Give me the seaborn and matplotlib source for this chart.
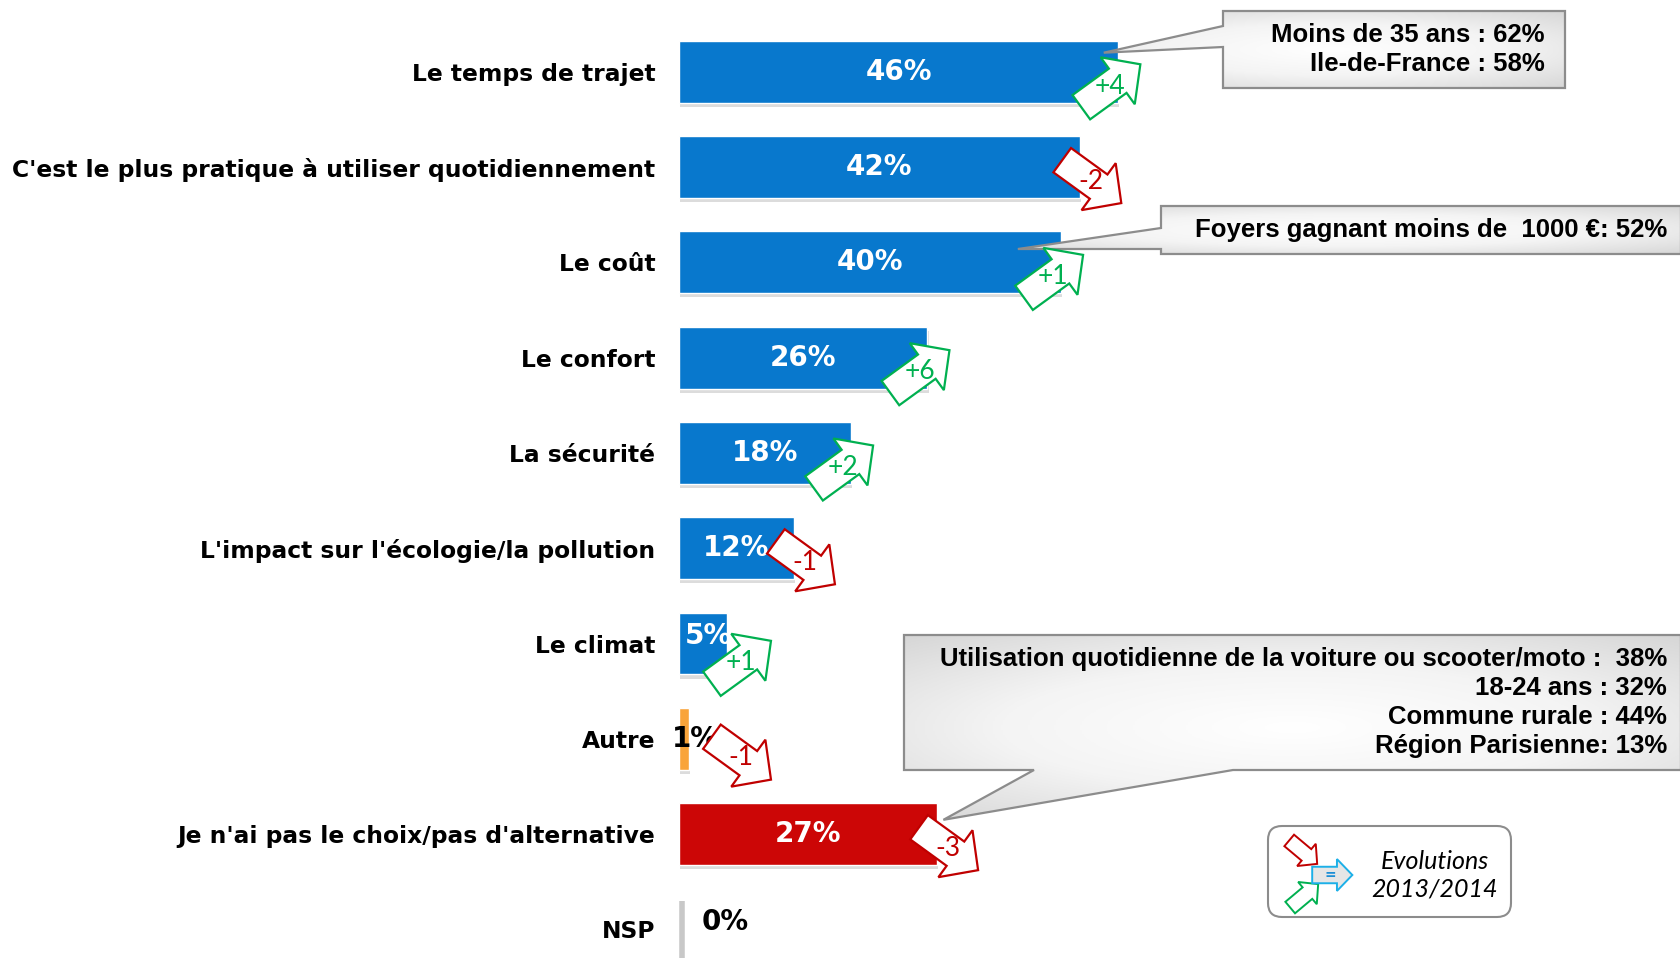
import matplotlib
matplotlib.use("Agg")

import matplotlib.pyplot as plt
import matplotlib.patheffects as pe
import numpy as np
import seaborn as sns
from matplotlib.colors import LinearSegmentedColormap
from matplotlib.patches import FancyBboxPatch, Polygon

categories = [
    "Le temps de trajet",
    "C'est le plus pratique à utiliser quotidiennement",
    "Le coût",
    "Le confort",
    "La sécurité",
    "L'impact sur l'écologie/la pollution",
    "Le climat",
    "Autre",
    "Je n'ai pas le choix/pas d'alternative",
    "NSP",
]
values = [46, 42, 40, 26, 18, 12, 5, 1, 27, 0]
evolutions = [4, -2, 1, 6, 2, -1, 1, -1, -3, None]
bar_colors = ["#0878CD"] * 7 + ["#F9A43A", "#CC0606", "#C8C8C8"]

callout_trajet = ["Moins de 35 ans : 62%", "Ile-de-France : 58%"]
callout_cout = ["Foyers gagnant moins de  1000 €: 52%"]
callout_choix = [
    "Utilisation quotidienne de la voiture ou scooter/moto :  38%",
    "18-24 ans : 32%",
    "Commune rurale : 44%",
    "Région Parisienne: 13%",
]
legend_text = "Evolutions\n2013/2014"

GREEN = "#00B050"
RED = "#C00000"
W, H = 1681, 958
PX_PER_PCT = 9.545

sns.set_style("white")
plt.rcParams["font.family"] = ["DejaVu Sans"]
callout_font = dict(family=["Liberation Sans", "DejaVu Sans"], fontsize=18.5)

fig = plt.figure(figsize=(W / 100, H / 100), dpi=100)
ax = fig.add_axes([679 / W, 0, 1002 / W, 1])
sns.barplot(x=values, y=categories, hue=categories, palette=bar_colors, saturation=1,
            width=0.65, legend=False, orient="h", ax=ax)
ax.set_xlim(0, 1002 / PX_PER_PCT)
ax.set_ylim(9.3, -0.753)
sns.despine(ax=ax, left=True, bottom=True)
ax.set_xticks([])
ax.set_xlabel("")
ax.set_ylabel("")
ax.tick_params(axis="y", length=0, pad=17, labelsize=16.8, labelcolor="black")
for lbl in ax.get_yticklabels():
    lbl.set_fontweight("bold")

for bar in ax.patches:
    bar.set_path_effects([pe.SimplePatchShadow(offset=(1, -3), shadow_rgbFace="#777777", alpha=0.25), pe.Normal()])

# NSP has no bar, only the grey baseline stub
nsp = categories.index("NSP")
ax.vlines(0.35, nsp - 0.3, nsp + 0.6, color="#C8C8C8", lw=4)

for i, v in enumerate(values):
    if v >= 10:
        ax.text(v / 2, i, f"{v}%", color="white", fontsize=20, fontweight="bold", ha="center", va="center")
    elif v >= 5:
        ax.text(v / 2 + 0.6, i - 0.08, f"{v}%", color="white", fontsize=20, fontweight="bold", ha="center", va="center")
    elif v > 0:
        ax.text(v + 0.7, i, f"{v}%", color="black", fontsize=20, fontweight="bold", ha="center", va="center")
    else:
        ax.text(2.4, i - 0.08, f"{v}%", color="black", fontsize=20, fontweight="bold", ha="left", va="center")


def to_px(x, y):
    dx, dy = ax.transData.transform((x, y))
    return dx, H - dy


axo = fig.add_axes([0, 0, 1, 1])
axo.axis("off")

callout_cmap = LinearSegmentedColormap.from_list("callout", ["#ffffff", "#f4f4f4", "#d6d6d6"])


def callout(verts, lines, x_right, y_first, step):
    poly = Polygon(verts, closed=True, facecolor="none", edgecolor="#8C8C8C", lw=1.6, zorder=3)
    axo.add_patch(poly)
    xs, ys = zip(*verts)
    yy, xx = np.mgrid[-1:1:200j, -1:1:400j]
    img = axo.imshow(np.hypot(xx * 0.9, yy), cmap=callout_cmap, vmin=0, vmax=1.35,
                     extent=(min(xs), max(xs), max(ys), min(ys)), aspect="auto", zorder=2)
    img.set_clip_path(poly)
    for k, line in enumerate(lines):
        axo.text(x_right, y_first + k * step, line, ha="right", va="center", fontweight="bold",
                 color="black", zorder=4, **callout_font)


tip = to_px(values[0] - 1.5, 0 - 0.2)
callout([(1223, 11), (1565, 11), (1565, 88), (1223, 88), (1223, 47), tip, (1223, 26)],
        callout_trajet, 1545, 35, 29)
tip = to_px(values[2] - 4.5, 2 - 0.14)
callout([(1161, 206), (1681, 206), (1681, 254), (1161, 254), (1161, 249), tip, (1161, 228)],
        callout_cout, 1667, 230, 29)
tip = to_px(values[8] + 0.7, 8 - 0.15)
callout([(904, 635), (1681, 635), (1681, 770), (1233, 770), tip, (1034, 770), (904, 770)],
        callout_choix, 1667, 659, 29)


def block_arrow(cx, cy, angle, color, scale=1.0, face="white", lw=1.6, z=5):
    shape = np.array([[-36, -15], [9, -15], [9, -29], [37, 0], [9, 29], [9, 15], [-36, 15]]) * scale
    a = np.deg2rad(angle)
    rot = np.array([[np.cos(a), -np.sin(a)], [np.sin(a), np.cos(a)]])
    pts = shape @ rot.T
    pts[:, 1] *= -1  # pixel y grows downwards
    pts += (cx, cy)
    axo.add_patch(Polygon(pts, closed=True, facecolor=face, edgecolor=color, lw=lw, joinstyle="miter", zorder=z))


for i, (v, ev) in enumerate(zip(values, evolutions)):
    if ev is None:
        continue
    color = GREEN if ev > 0 else RED
    if v >= 10:
        cx = v - 0.8 if ev > 0 else v + 1.2
        cy = i + 0.15
    else:
        cx = max(v + 1.5, 6.5)
        cy = i + 0.2
    px, py = to_px(cx, cy)
    block_arrow(px, py, 36 if ev > 0 else -36, color)
    axo.text(px, py, f"{ev:+d}", color=color, fontsize=19, ha="center", va="center",
             family=["Lato", "DejaVu Sans"], zorder=6)

# legend box
axo.add_patch(FancyBboxPatch((1268, 826), 243, 91, boxstyle="round,pad=0,rounding_size=14",
                             facecolor="white", edgecolor="#8C8C8C", lw=1.5, zorder=3))
block_arrow(1303, 852, -40, RED, scale=0.5, lw=1.4)
block_arrow(1304, 896, 40, GREEN, scale=0.5, lw=1.4)
block_arrow(1332, 875, 0, "#1CB0E8", scale=0.55, face="#E6E6E6", lw=1.4, z=6)
axo.text(1330, 875, "=", color="#1C8FD6", fontsize=10, fontweight="bold", ha="center", va="center", zorder=7)
axo.text(1435, 875, legend_text, ha="center", va="center", fontsize=18, style="italic",
         family=["Lato", "DejaVu Sans"], color="black", linespacing=1.25, zorder=4)

axo.set_xlim(0, W)
axo.set_ylim(H, 0)

fig.savefig("out.png", dpi=100)
plt.close(fig)
